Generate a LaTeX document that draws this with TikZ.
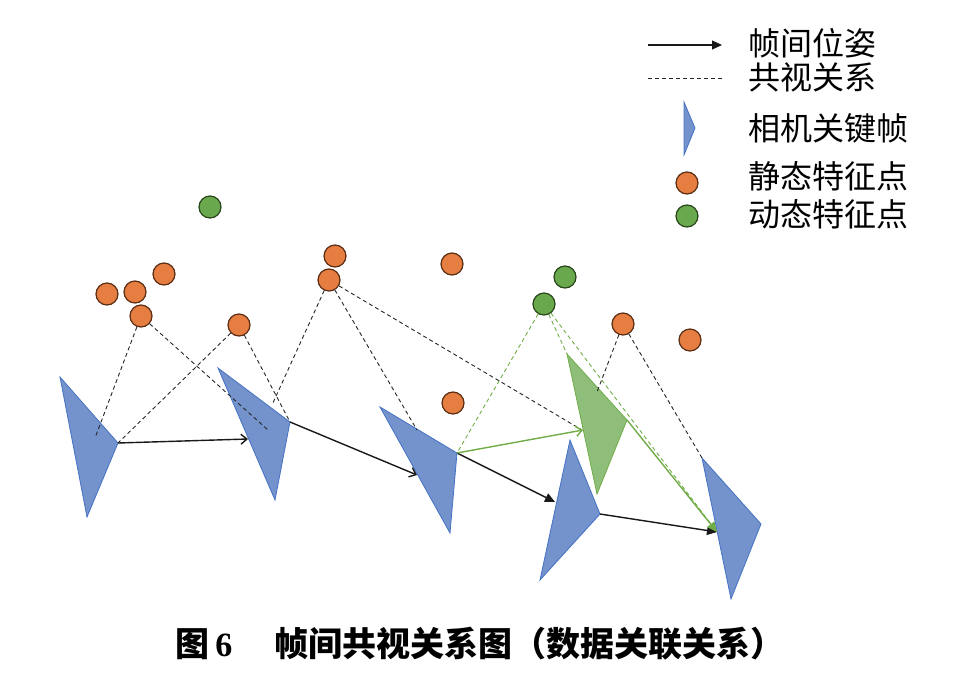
\documentclass[tikz,border=0pt]{standalone}
\usepackage{fontspec}
\newfontfamily\cjk{Noto Sans CJK SC}
\newfontfamily\numf{Liberation Serif}
\usetikzlibrary{arrows.meta}
\definecolor{camf}{RGB}{116,146,203}
\definecolor{camd}{RGB}{68,114,196}
\definecolor{grf}{RGB}{142,190,122}
\definecolor{grd}{RGB}{112,173,71}
\definecolor{orf}{RGB}{230,125,65}
\definecolor{ord}{RGB}{90,45,20}
\definecolor{gpf}{RGB}{106,168,78}
\definecolor{gpd}{RGB}{40,70,25}
\tikzset{
 cam/.style={fill=camf,draw=camd,line width=0.8pt},
 gcam/.style={fill=grf,draw=grd,line width=0.8pt},
 spt/.style={circle,minimum size=22pt,inner sep=0pt,fill=orf,draw=ord,line width=1.2pt},
 dpt/.style={circle,minimum size=22pt,inner sep=0pt,fill=gpf,draw=gpd,line width=1.2pt},
 cov/.style={dashed,dash pattern=on 4pt off 3pt,line width=0.9pt,black!85},
 gcov/.style={dashed,dash pattern=on 4pt off 3pt,line width=0.9pt,grd},
 pose/.style={line width=1.4pt,black!90},
 oarr/.style={-{Straight Barb[length=6pt,width=10pt]}},
 farr/.style={-{Triangle[length=10pt,width=9pt]}},
 leg/.style={anchor=west,font=\cjk\fontsize{32}{33}\selectfont,inner sep=0pt},
}
\begin{document}
\begin{tikzpicture}[x=1pt,y=-1pt]
\useasboundingbox (0,0) rectangle (977,683);
% cameras
\draw[cam] (60,377) coordinate(c1a) -- (118,443) coordinate(c1) -- (87,517) -- cycle;
\draw[cam] (218,368) -- (290,422) coordinate(c2) -- (275,500) -- cycle;
\draw[cam] (380,407) -- (457,453) coordinate(c3) -- (450,533) -- cycle;
\draw[cam] (570,440) -- (600,514) coordinate(c4) -- (540,580) -- cycle;
\draw[gcam] (567,354) coordinate(g5t) -- (627,420) coordinate(c5) -- (597,494) -- cycle;
\draw[cam] (702,458) coordinate(c6t) -- (761,524) -- (731,599) -- cycle;
\coordinate (c6l) at (717,532);
\coordinate (i1) at (95,438);
\coordinate (i2) at (268,430);
\coordinate (i2b) at (272,405);
\coordinate (i3) at (417,430);
\coordinate (i5) at (582,430);
\coordinate (i5b) at (597,392);
% points
\node[spt] (p1) at (107,294) {};
\node[spt] (p2) at (135,292) {};
\node[spt] (p3) at (164,274) {};
\node[spt] (p4) at (141,316) {};
\node[spt] (p5) at (239,325) {};
\node[spt] (p6) at (335,256) {};
\node[spt] (p7) at (329,280) {};
\node[spt] (p8) at (452,264) {};
\node[spt] (p9) at (453,403) {};
\node[spt] (p10) at (623,324) {};
\node[spt] (p11) at (690,340) {};
\node[dpt] (d1) at (210,207) {};
\node[dpt] (d2) at (565,277) {};
\node[dpt] (d3) at (544,304) {};
% covisibility
\draw[cov] (p4) -- (i1);
\draw[cov] (p4) -- (i2);
\draw[cov] (p5) -- (c1);
\draw[cov] (p5) -- (c2);
\draw[cov] (p7) -- (i2b);
\draw[cov] (p7) -- (i3);
\draw[cov] (p7) -- (i5);
\draw[cov] (p10) -- (i5b);
\draw[cov] (p10) -- (c6t);
\draw[gcov] (d3) -- (c3);
\draw[gcov] (d3) -- (g5t);
\draw[gcov] (d3) -- (c6l);
% poses
\draw[pose,oarr] (c1) -- (248,439) coordinate(e1);
\draw[pose,oarr] (c2) -- (417,475);
\draw[pose,farr] (c3) -- (555,502);
\draw[pose,farr] (c4) -- (c6l);
\draw[pose,oarr,grd] (c3) -- (583,430);
\draw[pose,farr,grd] (c5) -- (c6l);
% legend
\draw[pose,farr,line width=1.1pt] (648,45) coordinate(l1a) -- (722,45) coordinate(l1b);
\node[leg] (t1) at (748,43) {帧间位姿};
\draw[cov] (648,78) -- (722,78);
\node[leg] (t2) at (748,77) {共视关系};
\draw[cam] (684,102) -- (695,128) -- (684,155) -- cycle;
\node[leg] (t3) at (748,128) {相机关键帧};
\node[spt] (lp1) at (687,183) {};
\node[leg] (t4) at (748,176) {静态特征点};
\node[dpt] (lp2) at (687,216) {};
\node[leg] (t5) at (748,214) {动态特征点};
% caption
\node[font=\cjk\bfseries\fontsize{34}{35}\selectfont,inner sep=0pt] (cap) at (480,644) {图\,{\numf\bfseries 6}\quad\ 帧间共视关系图（数据关联关系）};
\end{tikzpicture}
\end{document}
